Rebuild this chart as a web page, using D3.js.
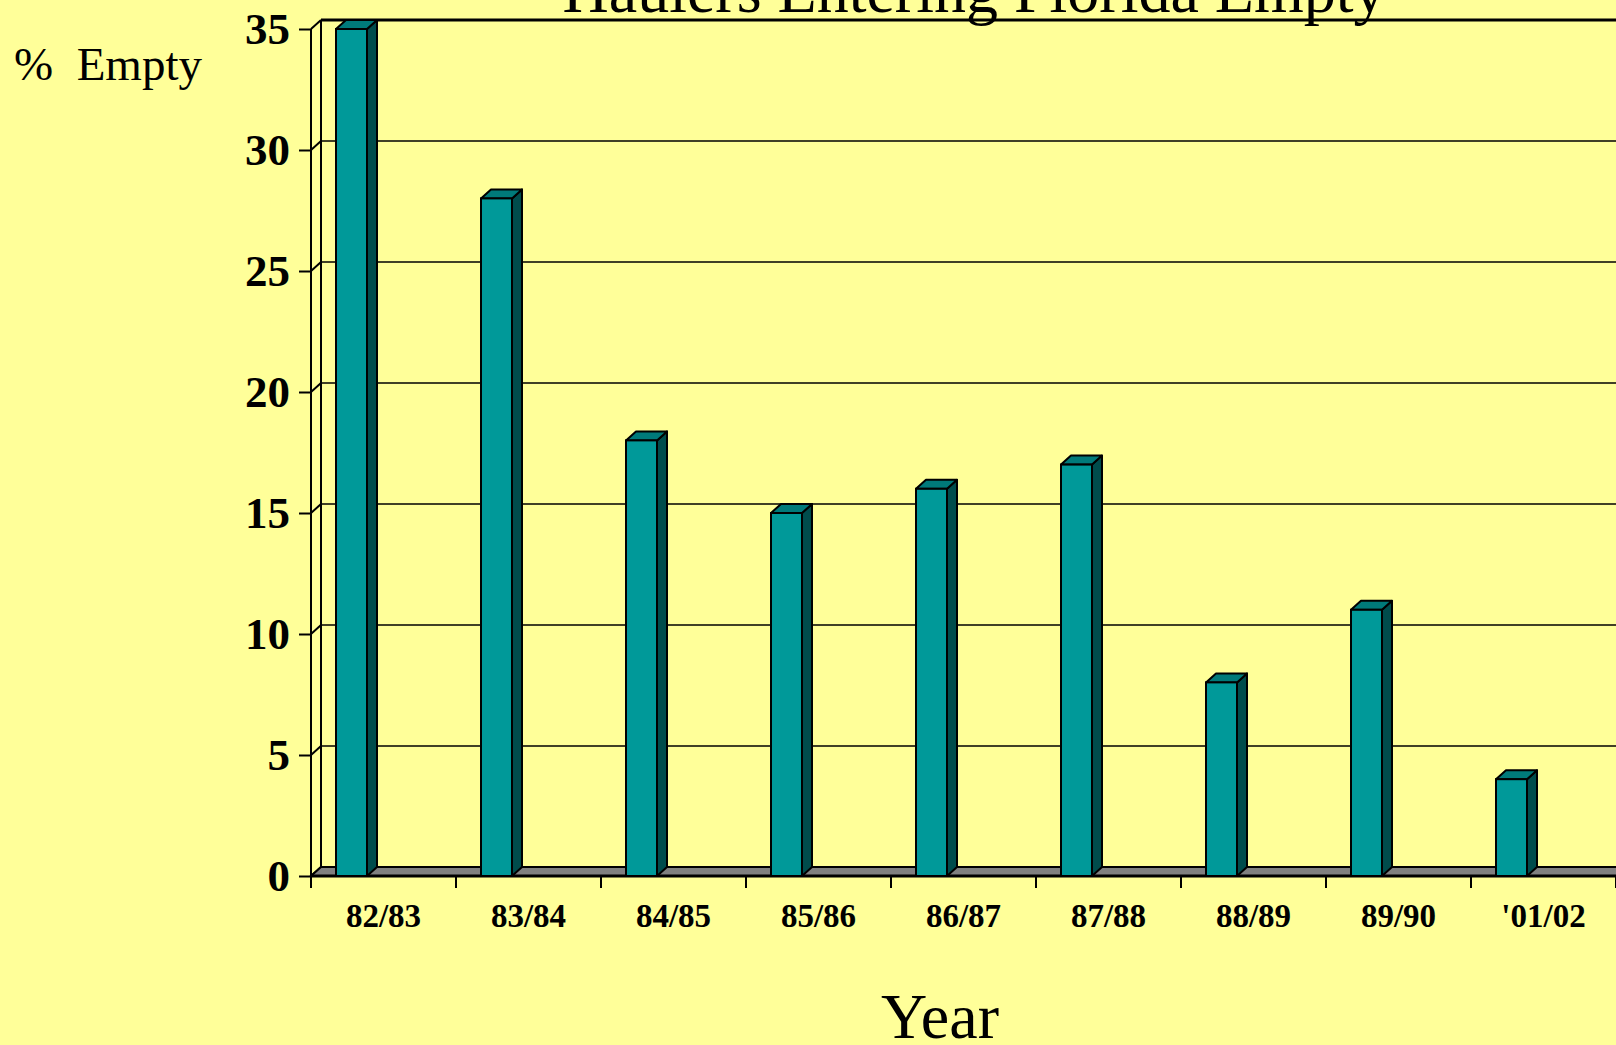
<!DOCTYPE html>
<html>
<head>
<meta charset="utf-8">
<script src="https://cdn.jsdelivr.net/npm/d3@7"></script>
<style>
  html, body { margin: 0; padding: 0; background: #FFFF99; }
  svg { display: block; }
</style>
</head>
<body>
<svg id="chart" width="1616" height="1045"></svg>
<script>
// Share of haulers entering Florida empty, by season
const categories = ["82/83", "83/84", "84/85", "85/86", "86/87", "87/88", "88/89", "89/90", "'01/02"];
const percentEmpty = [35, 28, 18, 15, 16, 17, 8, 11, 4];
const yTicks = [0, 5, 10, 15, 20, 25, 30, 35];

const W = 1616, H = 1045;
const svg = d3.select("#chart");
const serif = "'Liberation Serif', 'Times New Roman', serif";

// plot frame: front plane and the receding offset of the 3-D back wall
const left = 311, right = 1616, zeroY = 876, topY = 29;
const depthX = 10, depthY = -9;

const x = d3.scaleBand().domain(categories).range([left, right]).padding(0);
const y = d3.scaleLinear().domain([0, 35]).range([zeroY, topY]);

const barInset = 25, barW = 31;

svg.append("rect").attr("width", W).attr("height", H).attr("fill", "#FFFF99");

// back-wall gridlines
const g = svg.append("g");
g.selectAll("line.grid").data(yTicks.filter(d => d > 0)).join("line")
  .attr("x1", left + depthX).attr("x2", right)
  .attr("y1", d => y(d) + depthY).attr("y2", d => y(d) + depthY)
  .attr("stroke", "#000").attr("stroke-width", d => d === 35 ? 3 : 1.6);

// side wall: diagonals from front ticks to back gridlines
g.selectAll("line.diag").data(yTicks).join("line")
  .attr("x1", left).attr("x2", left + depthX)
  .attr("y1", d => y(d)).attr("y2", d => y(d) + depthY)
  .attr("stroke", "#000").attr("stroke-width", 2);

// back wall left edge
g.append("line")
  .attr("x1", left + depthX).attr("x2", left + depthX)
  .attr("y1", y(35) + depthY).attr("y2", y(0) + depthY)
  .attr("stroke", "#000").attr("stroke-width", 2);

// floor
g.append("path")
  .attr("d", `M${left},${zeroY} L${left + depthX},${zeroY + depthY} L${right + 20},${zeroY + depthY} L${right + 20},${zeroY} Z`)
  .attr("fill", "#808080").attr("stroke", "#000").attr("stroke-width", 2);
g.append("line")
  .attr("x1", left).attr("x2", right).attr("y1", zeroY).attr("y2", zeroY)
  .attr("stroke", "#000").attr("stroke-width", 3);

// bars as 3-D prisms: front, side and top faces
const bars = svg.append("g").selectAll("g.bar")
  .data(categories.map((c, i) => ({ c, v: percentEmpty[i] })))
  .join("g");

bars.append("path") // side
  .attr("d", d => {
    const x0 = x(d.c) + barInset + barW, t = y(d.v);
    return `M${x0},${t} L${x0 + depthX},${t + depthY} L${x0 + depthX},${zeroY + depthY} L${x0},${zeroY} Z`;
  })
  .attr("fill", "#004C4C").attr("stroke", "#000").attr("stroke-width", 2).attr("stroke-linejoin", "round");

bars.append("path") // top
  .attr("d", d => {
    const x0 = x(d.c) + barInset, t = y(d.v);
    return `M${x0},${t} L${x0 + depthX},${t + depthY} L${x0 + barW + depthX},${t + depthY} L${x0 + barW},${t} Z`;
  })
  .attr("fill", "#007A7A").attr("stroke", "#000").attr("stroke-width", 2).attr("stroke-linejoin", "round");

bars.append("rect") // front
  .attr("x", d => x(d.c) + barInset)
  .attr("y", d => y(d.v))
  .attr("width", barW)
  .attr("height", d => zeroY - y(d.v))
  .attr("fill", "#009999").attr("stroke", "#000").attr("stroke-width", 2);

// value axis
const yAxis = svg.append("g")
  .attr("transform", `translate(${left},0)`)
  .call(d3.axisLeft(y).tickValues(yTicks).tickSize(12).tickPadding(9).tickFormat(d3.format("d")));
yAxis.select(".domain").remove();
yAxis.selectAll(".tick line").attr("stroke", "#000").attr("stroke-width", 2);
yAxis.selectAll(".tick text")
  .attr("font-family", serif).attr("font-weight", "bold").attr("font-size", 45).attr("fill", "#000");
svg.append("line")
  .attr("x1", left).attr("x2", left).attr("y1", topY).attr("y2", zeroY + 12)
  .attr("stroke", "#000").attr("stroke-width", 2);

// category axis: ticks at band boundaries, labels centred in bands
const xTickPos = categories.map(c => x(c)).concat([x(categories[categories.length - 1]) + x.step()]);
svg.append("g").selectAll("line").data(xTickPos).join("line")
  .attr("x1", d => d).attr("x2", d => d)
  .attr("y1", zeroY).attr("y2", zeroY + 12)
  .attr("stroke", "#000").attr("stroke-width", 2);

svg.append("g").selectAll("text").data(categories).join("text")
  .attr("x", d => x(d) + x.bandwidth() / 2)
  .attr("y", 927)
  .attr("text-anchor", "middle")
  .attr("font-family", serif).attr("font-weight", "bold").attr("font-size", 33)
  .text(d => d);

// titles
svg.append("text")
  .attr("x", 974).attr("y", 12)
  .attr("text-anchor", "middle")
  .attr("font-family", serif).attr("font-size", 64)
  .text("Haulers Entering Florida Empty");

svg.append("text")
  .attr("x", 14).attr("y", 80)
  .attr("font-family", serif).attr("font-size", 47)
  .attr("xml:space", "preserve")
  .text("%  Empty");

svg.append("text")
  .attr("x", 940).attr("y", 1038)
  .attr("text-anchor", "middle")
  .attr("font-family", serif).attr("font-size", 64)
  .text("Year");
</script>
</body>
</html>
